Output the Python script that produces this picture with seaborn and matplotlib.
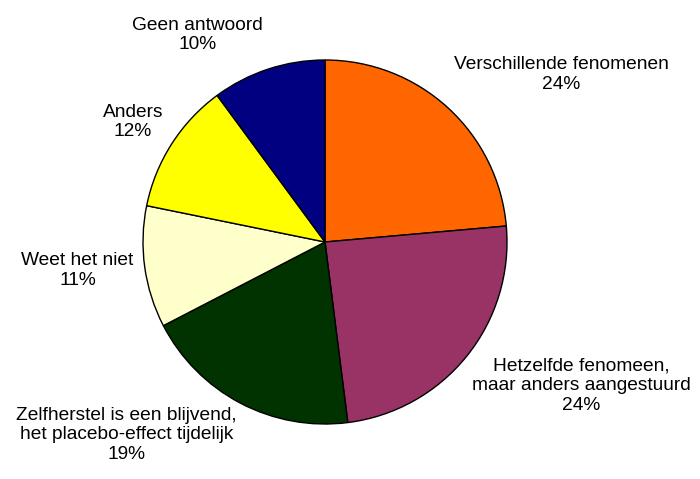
import seaborn as sns
import matplotlib.pyplot as plt

labels = ['Verschillende fenomenen', 'Hetzelfde fenomeen,\nmaar anders aangestuurd',
          'Zelfherstel is een blijvend,\nhet placebo-effect tijdelijk',
          'Weet het niet', 'Anders', 'Geen antwoord']
values = [23.6, 24.4, 19.4, 10.8, 11.7, 10.1]
colors = ['#FF6600', '#993366', '#003300', '#FFFFCC', '#FFFF00', '#000080']

# label positions (pie radius = 1)
label_pos = [(1.30, 0.92), (1.41, -0.79), (-1.09, -1.06),
             (-1.36, -0.155), (-1.055, 0.66), (-0.70, 1.137)]

sns.set_theme(style='white')
plt.rcParams['font.family'] = ['Liberation Sans', 'DejaVu Sans']

fig = plt.figure(figsize=(7, 4.79), dpi=100)
ax = fig.add_axes([0, 0, 1, 1])

wedges, _ = ax.pie(values, colors=colors, startangle=90, counterclock=False,
                   wedgeprops=dict(edgecolor='black', linewidth=1))

for lab, v, (x, y) in zip(labels, values, label_pos):
    ax.text(x, y, f'{lab}\n{v:.0f}%', ha='center', va='center',
            fontsize=13.8, linespacing=1.2, color='black')

r = 182
ax.set_xlim(-325 / r, 375 / r)
ax.set_ylim(-237 / r, 242 / r)
ax.set_aspect('equal')
ax.axis('off')

plt.savefig('out.png', dpi=100)
